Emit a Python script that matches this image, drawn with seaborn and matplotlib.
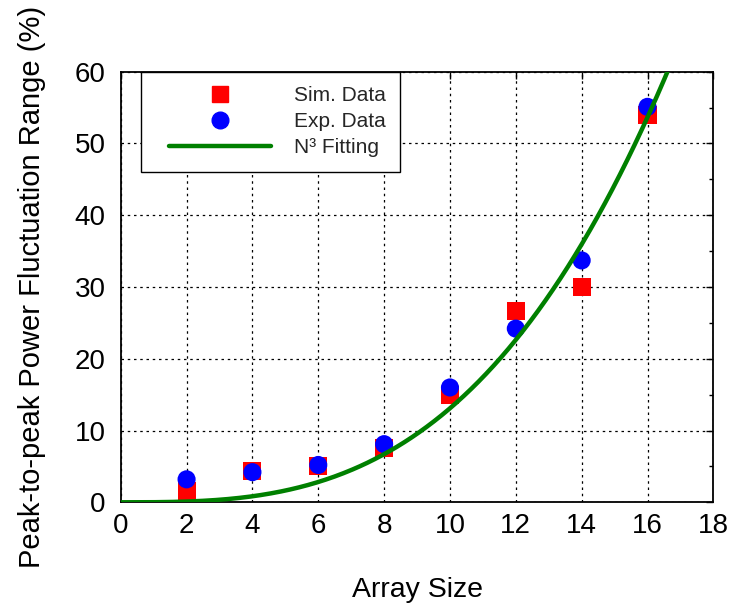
import numpy as np
import pandas as pd
import matplotlib
matplotlib.use("Agg")
import matplotlib.pyplot as plt
from matplotlib.ticker import MultipleLocator
from matplotlib.legend_handler import HandlerLine2D
import seaborn as sns

# Measured / simulated peak-to-peak power fluctuation range vs array size
array_size = [2, 4, 6, 8, 10, 12, 14, 16]
sim_data = [1.5, 4.3, 5.1, 7.6, 15.0, 26.7, 30.0, 54.0]
exp_data = [3.2, 4.2, 5.2, 8.1, 16.0, 24.2, 33.7, 55.1]

# Cubic fit coefficient: range = k * N^3
fit_coeff = 0.0131

sns.set_theme(style="white")
plt.rcParams["font.family"] = ["Liberation Sans", "DejaVu Sans"]

points = pd.concat([
    pd.DataFrame({"N": array_size, "value": sim_data, "series": "Sim. Data"}),
    pd.DataFrame({"N": array_size, "value": exp_data, "series": "Exp. Data"}),
], ignore_index=True)

n_fine = np.linspace(0, 18, 400)
fit = pd.DataFrame({"N": n_fine, "value": fit_coeff * n_fine ** 3})

fig = plt.figure(figsize=(7.33, 6.07), dpi=100)
ax = fig.add_axes([0.1647, 0.1725, 0.8085, 0.7094])

sns.scatterplot(data=points, x="N", y="value", hue="series", style="series",
                palette={"Sim. Data": "#ff0000", "Exp. Data": "#0000ff"},
                markers={"Sim. Data": "s", "Exp. Data": "o"},
                s=170, edgecolor="none", linewidth=0, legend=False, ax=ax, zorder=3)
sns.lineplot(data=fit, x="N", y="value", color="#008000", linewidth=3.2,
             ax=ax, zorder=4)

ax.set_xlim(0, 18)
ax.set_ylim(0, 60)
ax.xaxis.set_major_locator(MultipleLocator(2))
ax.yaxis.set_major_locator(MultipleLocator(10))
ax.yaxis.set_minor_locator(MultipleLocator(5))
ax.grid(True, which="major", color="black", linestyle=(0, (2, 3)), linewidth=0.9)
ax.tick_params(axis="both", which="both", direction="in", top=True, right=True,
               labelsize=20, colors="black")
ax.tick_params(axis="x", pad=8)
ax.tick_params(axis="y", pad=11)
ax.tick_params(which="major", length=5, width=1)
ax.tick_params(which="minor", length=3, width=1)
for sp in ax.spines.values():
    sp.set_color("black")
    sp.set_linewidth(1.3)

ax.set_xlabel("Array Size", fontsize=20.5, labelpad=27, color="black")
ax.set_ylabel("Peak-to-peak Power Fluctuation Range (%)", fontsize=21,
              labelpad=20.5, color="black")

handles = [
    plt.Line2D([], [], marker="s", color="#ff0000", linestyle="none", markersize=12),
    plt.Line2D([], [], marker="o", color="#0000ff", linestyle="none", markersize=12),
    plt.Line2D([], [], color="#008000", linewidth=3.2),
]
labels = ["Sim. Data", "Exp. Data", "N\u00b3 Fitting"]
leg = ax.legend(handles, labels, loc="upper left", bbox_to_anchor=(0.035, 1.0),
                fontsize=15, frameon=True, fancybox=False, edgecolor="black",
                framealpha=1, handlelength=5.5, handletextpad=1.1,
                labelspacing=0.33, borderpad=0.7, borderaxespad=0,
                handler_map={h: HandlerLine2D(xpad=0.6) for h in handles})
leg.get_frame().set_linewidth(1.0)

fig.savefig("out.png", dpi=100)
